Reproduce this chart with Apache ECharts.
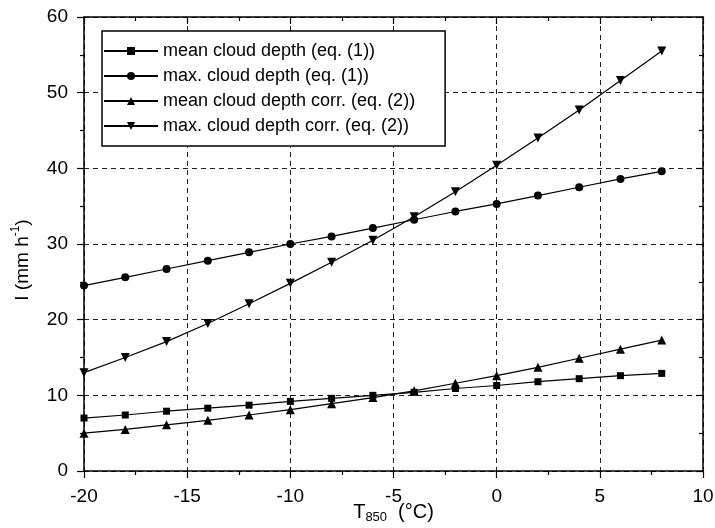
<!DOCTYPE html>
<html>
<head>
<meta charset="utf-8">
<script src="https://cdn.jsdelivr.net/npm/echarts@6/dist/echarts.min.js"></script>
<style>
  html, body { margin: 0; padding: 0; background: #fff; }
  #chart { width: 715px; height: 528px; }
</style>
</head>
<body>
<div id="chart"></div>
<script>
// temperature T850 (°C)
var temps = [-20, -18, -16, -14, -12, -10, -8, -6, -4, -2, 0, 2, 4, 6, 8]
var meanDepth = [7.0, 7.4, 7.9, 8.3, 8.7, 9.2, 9.6, 10.0, 10.4, 10.9, 11.3, 11.8, 12.2, 12.6, 12.9]
var maxDepth = [24.5, 25.6, 26.7, 27.8, 28.9, 30.0, 31.0, 32.1, 33.2, 34.3, 35.3, 36.4, 37.5, 38.6, 39.6]
var meanDepthCorr = [5.0, 5.5, 6.1, 6.7, 7.4, 8.1, 8.9, 9.7, 10.6, 11.6, 12.6, 13.7, 14.9, 16.1, 17.3]
var maxDepthCorr = [13.0, 15.0, 17.1, 19.5, 22.1, 24.8, 27.6, 30.5, 33.6, 36.9, 40.4, 44.0, 47.7, 51.6, 55.5]
var seriesNames = [
  'mean cloud depth (eq. (1))',
  'max. cloud depth (eq. (1))',
  'mean cloud depth corr. (eq. (2))',
  'max. cloud depth corr. (eq. (2))'
]

var font = 'Liberation Sans'

function pairs(vals) {
  return temps.map(function (t, i) { return [t, vals[i]] })
}

function makeSeries(name, vals, symbol, rotate, size) {
  return {
    name: name,
    type: 'line',
    xAxisIndex: 0,
    yAxisIndex: 0,
    data: pairs(vals),
    symbol: symbol,
    symbolRotate: rotate,
    symbolSize: size,
    showSymbol: true,
    itemStyle: { color: '#000' },
    lineStyle: { color: '#000', width: 1.2 },
    animation: false
  }
}

var dashed = { show: true, lineStyle: { color: '#222', width: 1, type: [5, 4] } }

// frame axes (top / right) only carry ticks, pointing inward
function frameAxis(extra) {
  return Object.assign({
    type: 'value',
    axisLine: { show: true, onZero: false, lineStyle: { color: '#000', width: 1.5 } },
    axisTick: { inside: true, length: 7, lineStyle: { color: '#000', width: 1.2 } },
    minorTick: { show: true, splitNumber: 2, length: 4, lineStyle: { color: '#000', width: 1.2 } },
    axisLabel: { show: false },
    splitLine: { show: false }
  }, extra)
}

var chart = echarts.init(document.getElementById('chart'))
chart.setOption({
  backgroundColor: '#fff',
  grid: { left: 84, right: 12, top: 17, bottom: 57, outerBoundsMode: 'none' },
  legend: {
    orient: 'vertical',
    left: 102,
    top: 31,
    itemWidth: 54,
    itemHeight: 10,
    itemGap: 7,
    padding: [11, 30, 11, 1],
    borderColor: '#000',
    borderWidth: 1.5,
    backgroundColor: '#fff',
    textStyle: { fontFamily: font, fontSize: 18, color: '#000' },
    data: seriesNames
  },
  xAxis: [{
    type: 'value',
    min: -20, max: 10, interval: 5,
    axisLine: { show: true, onZero: false, lineStyle: { color: '#000', width: 1.5 } },
    axisTick: { inside: false, length: 7, lineStyle: { color: '#000', width: 1.2 } },
    minorTick: { show: true, splitNumber: 2, length: 4, lineStyle: { color: '#000', width: 1.2 } },
    axisLabel: { fontFamily: font, fontSize: 19, color: '#000', margin: 16 },
    splitLine: dashed,
    name: '{a|T}{sub|850}{a|(°C)}',
    nameLocation: 'middle',
    nameGap: 31,
    nameMoveOverlap: false,
    nameTextStyle: {
      rich: {
        a: { fontFamily: font, fontSize: 20, color: '#000', verticalAlign: 'top', lineHeight: 22 },
        sub: { fontFamily: font, fontSize: 13, color: '#000', verticalAlign: 'bottom', lineHeight: 22, padding: [7, 11, 0, 0] }
      }
    }
  }, frameAxis({ position: 'top', min: -20, max: 10, interval: 5 })],
  yAxis: [{
    type: 'value',
    min: 0, max: 60, interval: 10,
    axisLine: { show: true, onZero: false, lineStyle: { color: '#000', width: 1.5 } },
    axisTick: { inside: false, length: 7, lineStyle: { color: '#000', width: 1.2 } },
    minorTick: { show: true, splitNumber: 2, length: 4, lineStyle: { color: '#000', width: 1.2 } },
    axisLabel: { fontFamily: font, fontSize: 19, color: '#000', margin: 16 },
    splitLine: dashed,
    name: '{a|I (mm h}{sup|-1}{a|)}',
    nameLocation: 'middle',
    nameRotate: 90,
    nameGap: 52,
    nameMoveOverlap: false,
    nameTextStyle: {
      padding: [0, 32, 0, 0],
      rich: {
        a: { fontFamily: font, fontSize: 19, color: '#000', lineHeight: 22, verticalAlign: 'bottom' },
        sup: { fontFamily: font, fontSize: 12, color: '#000', lineHeight: 22, verticalAlign: 'top' }
      }
    }
  }, frameAxis({ position: 'right', min: 0, max: 60, interval: 10 })],
  series: [
    makeSeries(seriesNames[0], meanDepth, 'rect', 0, 7),
    makeSeries(seriesNames[1], maxDepth, 'circle', 0, 8),
    makeSeries(seriesNames[2], meanDepthCorr, 'triangle', 0, 9),
    makeSeries(seriesNames[3], maxDepthCorr, 'triangle', 180, 9)
  ]
})
</script>
</body>
</html>
